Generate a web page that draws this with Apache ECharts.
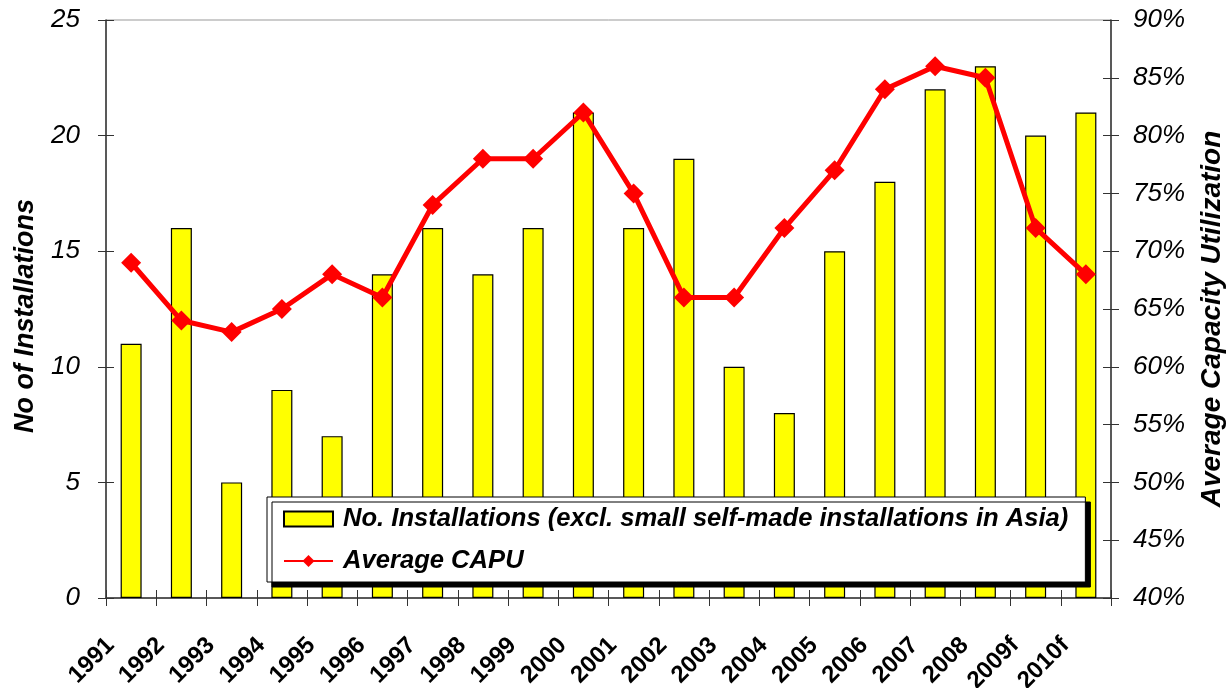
<!DOCTYPE html>
<html>
<head>
<meta charset="utf-8">
<script src="https://cdn.jsdelivr.net/npm/echarts@6/dist/echarts.min.js"></script>
<style>
  html, body { margin: 0; padding: 0; background: #fff; }
  #chart { width: 1228px; height: 688px; }
</style>
</head>
<body>
<div id="chart"></div>
<script>
// categories and values
const years = ['1991', '1992', '1993', '1994', '1995', '1996', '1997', '1998', '1999', '2000',
               '2001', '2002', '2003', '2004', '2005', '2006', '2007', '2008', '2009f', '2010f']
const installations = [11, 16, 5, 9, 7, 14, 16, 14, 16, 21, 16, 19, 10, 8, 15, 18, 22, 23, 20, 21]
const capu = [69, 64, 63, 65, 68, 66, 74, 78, 78, 82, 75, 66, 66, 72, 77, 84, 86, 85, 72, 68]

const leftTicks = { min: 0, max: 25, interval: 5 }
const rightTicks = { min: 40, max: 90, interval: 5 }

const FONT = '"Liberation Sans", Arial, sans-serif'
const axisCol = '#333'

const chart = echarts.init(document.getElementById('chart'))

const option = {
    animation: false,
    textStyle: { fontFamily: FONT },
    grid: {
        left: 106, right: 117, top: 20, bottom: 90,
        outerBoundsMode: 'none',
        show: true, borderColor: '#999', borderWidth: 1
    },
    legend: {
        left: 267, top: 497,
        orient: 'vertical',
        padding: [9, 17, 8, 16],
        itemGap: 16,
        itemWidth: 49, itemHeight: 15,
        backgroundColor: '#fff',
        borderColor: '#000', borderWidth: 1,
        shadowColor: '#000', shadowBlur: 0, shadowOffsetX: 5, shadowOffsetY: 5,
        textStyle: {
            fontFamily: FONT, fontSize: 25.6, fontWeight: 'bold', fontStyle: 'italic',
            color: '#000', padding: [0, 0, 0, 5]
        },
        data: [
            { name: 'No. Installations (excl. small self-made installations in Asia)', icon: 'rect' },
            { name: 'Average CAPU' }
        ]
    },
    xAxis: [
        {
            type: 'category',
            data: years,
            boundaryGap: true,
            axisLine: { lineStyle: { color: axisCol, width: 1.5 } },
            axisTick: { show: true, alignWithLabel: false, length: 8, lineStyle: { color: axisCol } },
            axisLabel: {
                interval: 0, rotate: 45, margin: 23,
                padding: [0, 29, 0, 0],
                fontFamily: FONT, fontSize: 24, fontWeight: 'bold', color: '#000'
            }
        },
        {   // inner half of the crossing ticks
            type: 'category', data: years, position: 'bottom', boundaryGap: true,
            axisLine: { show: false },
            axisTick: { show: true, inside: true, length: 8, lineStyle: { color: axisCol } },
            axisLabel: { show: false }
        }
    ],
    yAxis: [
        {
            type: 'value', position: 'left',
            min: leftTicks.min, max: leftTicks.max, interval: leftTicks.interval,
            name: 'No of Installations',
            nameLocation: 'middle', nameGap: 67,
            nameTextStyle: {
                fontFamily: FONT, fontSize: 27, fontWeight: 'bold', fontStyle: 'italic', color: '#000',
                padding: [0, 14, 0, 0]
            },
            axisLine: { show: true, lineStyle: { color: axisCol, width: 1.5 } },
            axisTick: { show: true, length: 8, lineStyle: { color: axisCol } },
            splitLine: { show: false },
            axisLabel: { margin: 26, fontFamily: FONT, fontSize: 26, fontStyle: 'italic', color: '#000' }
        },
        {
            type: 'value', position: 'right',
            min: rightTicks.min, max: rightTicks.max, interval: rightTicks.interval,
            name: 'Average Capacity Utilization',
            nameLocation: 'middle', nameGap: 87, nameRotate: 90,
            nameTextStyle: {
                fontFamily: FONT, fontSize: 28, fontWeight: 'bold', fontStyle: 'italic', color: '#000',
                padding: [0, 20, 0, 0]
            },
            axisLine: { show: true, lineStyle: { color: axisCol, width: 1.5 } },
            axisTick: { show: true, length: 8, lineStyle: { color: axisCol } },
            splitLine: { show: false },
            axisLabel: { margin: 22, formatter: '{value}%', fontFamily: FONT, fontSize: 26, fontStyle: 'italic', color: '#000' }
        },
        {   // inner ticks left
            type: 'value', position: 'left',
            min: leftTicks.min, max: leftTicks.max, interval: leftTicks.interval,
            axisLine: { show: false },
            axisTick: { show: true, inside: true, length: 8, lineStyle: { color: axisCol } },
            axisLabel: { show: false }, splitLine: { show: false }
        },
        {   // inner ticks right
            type: 'value', position: 'right',
            min: rightTicks.min, max: rightTicks.max, interval: rightTicks.interval,
            axisLine: { show: false },
            axisTick: { show: true, inside: true, length: 8, lineStyle: { color: axisCol } },
            axisLabel: { show: false }, splitLine: { show: false }
        }
    ],
    series: [
        {
            name: 'No. Installations (excl. small self-made installations in Asia)',
            type: 'bar',
            xAxisIndex: 0, yAxisIndex: 0,
            data: installations,
            barWidth: 21,
            itemStyle: { color: '#ffff00', borderColor: '#000', borderWidth: 1.2 }
        },
        {
            name: 'Average CAPU',
            type: 'line',
            xAxisIndex: 0, yAxisIndex: 1,
            data: capu,
            symbol: 'diamond', symbolSize: 20,
            lineStyle: { color: '#ff0000', width: 5 },
            itemStyle: { color: '#ff0000' },
            z: 3
        }
    ]
}

chart.setOption(option)
</script>
</body>
</html>
